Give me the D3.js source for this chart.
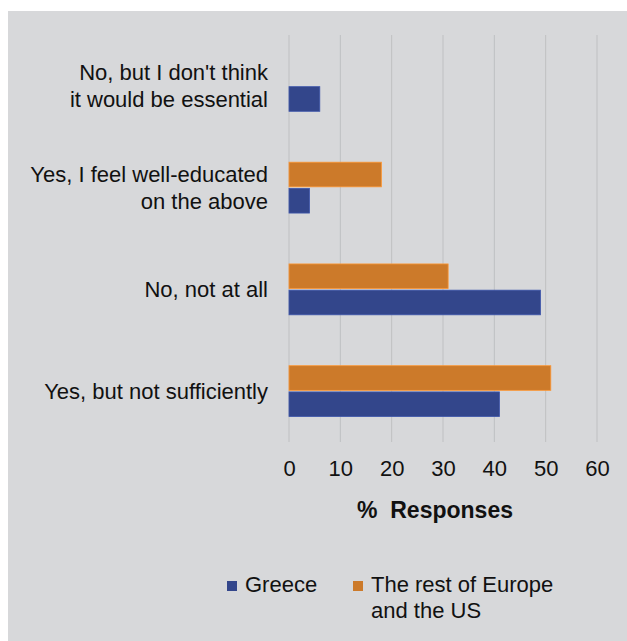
<!DOCTYPE html>
<meta charset="utf-8">
<style>
body { margin: 0; background: #fff; }
text { font-family: "Liberation Sans", Arial, sans-serif; fill: #111; }
</style>
<body>
<script src="https://d3js.org/d3.v7.min.js"></script>
<script>
// data
var categories = [
  "No, but I don't think|it would be essential",
  "Yes, I feel well-educated|on the above",
  "No, not at all",
  "Yes, but not sufficiently"
];
var series = ["Rest", "Greece"];
var restValues = [0, 18, 31, 51];
var greeceValues = [6, 4, 49, 41];
var tickValues = [0, 10, 20, 30, 40, 50, 60];
var legendLabels = ["Greece", "The rest of Europe|and the US"];
var colors = {Greece: "#33468b", Rest: "#cc7a2a"};

var W = 627, H = 641;
var svg = d3.select("body").append("svg").attr("width", W).attr("height", H);

svg.append("rect").attr("x", 8).attr("y", 11).attr("width", W - 8).attr("height", H - 11)
  .attr("fill", "#d7d8da");

var x = d3.scaleLinear().domain([0, 60]).range([289, 597]);
var y = d3.scaleBand().domain(categories).range([35, 442]);
var inner = d3.scaleBand().domain(series).range([25, 75]).paddingInner(0.06);

// grid
svg.append("g").selectAll("line").data(tickValues).enter().append("line")
  .attr("x1", d => x(d)).attr("x2", d => x(d))
  .attr("y1", 35).attr("y2", 442)
  .attr("stroke", "#bfc0c2").attr("stroke-width", 1);

var rows = categories.map(function(c, i) {
  return [{cat: c, s: "Rest", v: restValues[i]}, {cat: c, s: "Greece", v: greeceValues[i]}];
}).flat().filter(d => d.v > 0);

svg.append("g").selectAll("rect").data(rows).enter().append("rect")
  .attr("x", x(0))
  .attr("y", d => y(d.cat) + inner(d.s) * y.bandwidth() / 100)
  .attr("width", d => x(d.v) - x(0))
  .attr("height", inner.bandwidth() * y.bandwidth() / 100)
  .attr("fill", d => colors[d.s])
  .attr("stroke", d => d3.color(colors[d.s]).brighter(0.6))
  .attr("stroke-width", 0.8);

// category labels
var lab = svg.append("g").selectAll("text").data(categories).enter().append("text")
  .attr("text-anchor", "end")
  .attr("font-size", 22)
  .attr("transform", d => "translate(268," + (y(d) + y.bandwidth() / 2) + ")");
lab.each(function(d) {
  var lines = d.split("|");
  var t = d3.select(this);
  lines.forEach(function(l, i) {
    t.append("tspan").attr("x", 0)
      .attr("y", (i - (lines.length - 1) / 2) * 27 + 8)
      .text(l);
  });
});

// x axis tick labels
var xAxis = d3.axisBottom(x).tickValues(tickValues).tickSize(0).tickPadding(0);
var ax = svg.append("g").attr("transform", "translate(0,460)").call(xAxis);
ax.select(".domain").remove();
ax.selectAll("text").attr("font-size", 22).attr("fill", "#111")
  .style("font-family", "'Liberation Sans', Arial, sans-serif");

svg.append("text").attr("x", 435).attr("y", 518).attr("text-anchor", "middle")
  .attr("font-size", 23).attr("font-weight", "bold")
  .attr("xml:space", "preserve").text("%  Responses");

// legend
var legX = [227, 353];
var lg = svg.append("g").selectAll("g").data(legendLabels).enter().append("g")
  .attr("transform", (d, i) => "translate(" + legX[i] + ",0)");
lg.append("rect").attr("x", 0).attr("y", 581).attr("width", 10).attr("height", 10)
  .attr("fill", (d, i) => i === 0 ? colors.Greece : colors.Rest);
lg.append("text").attr("font-size", 22).each(function(d) {
  var t = d3.select(this);
  d.split("|").forEach(function(l, i) {
    t.append("tspan").attr("x", 18).attr("y", 592 + i * 26).text(l);
  });
});
</script>
</body>
